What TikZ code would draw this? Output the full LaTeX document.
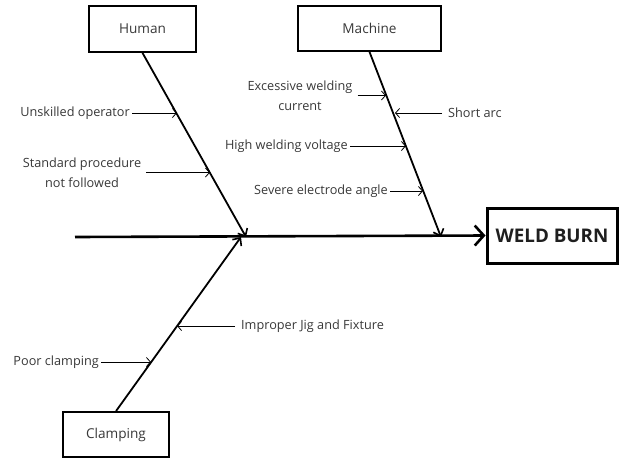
\documentclass[tikz,border=0pt]{standalone}
\usepackage{fontspec}
\setmainfont{Open Sans}
\usetikzlibrary{arrows.meta}
\begin{document}
\begin{tikzpicture}[x=1pt,y=-1pt,
  txt/.style={font=\fontsize{12.7}{20}\selectfont, text=black!78, inner sep=2pt, align=center},
  catbox/.style={draw, line width=1.8pt, font=\fontsize{13.6}{16}\selectfont, text=black!78, inner sep=0pt},
  effect/.style={draw, line width=3pt, font=\bfseries\fontsize{18.8}{22}\selectfont, text=black!88, inner sep=0pt},
  spine/.style={line width=2.6pt, -{Straight Barb[length=9pt,width=20pt,line width=2.6pt]}},
  bone/.style={line width=1.8pt, -{Straight Barb[length=6pt,width=11pt,line width=1.6pt]}},
  twig/.style={line width=0.8pt, -{Straight Barb[length=4pt,width=9pt,line width=0.8pt]}},
]
\useasboundingbox (0,0) rectangle (620,458);

% category boxes and the effect
\node[catbox, minimum width=107pt, minimum height=46pt] (human) at (142.5,29) {Human};
\node[catbox, minimum width=143pt, minimum height=45pt] (machine) at (369.5,28.5) {Machine};
\node[catbox, minimum width=106pt, minimum height=45pt] (clamp) at (116,434.5) {Clamping};
\node[effect, minimum width=130pt, minimum height=55pt] (weld) at (552,235.5) {WELD BURN};

% spine
\coordinate (tail) at (75,237);
\draw[spine] (tail) -- (weld.west);

% main bones
\coordinate (hj) at (246,237);
\coordinate (mj) at (441,237);
\coordinate (cj) at (241,237);
\draw[bone] (human.south) -- (hj);
\draw[bone] (machine.south) -- (mj);
\draw[bone] (clamp.north) -- (cj);

% points on the bones where the causes meet them
\coordinate (h1) at (177,113);
\coordinate (h2) at (210,173);
\coordinate (m1) at (386,96);
\coordinate (m2) at (395,113);
\coordinate (m3) at (406,146);
\coordinate (m4) at (423,191);
\coordinate (c1) at (177,326);
\coordinate (c2) at (151,362);

% Human causes
\node[txt, anchor=east] (uo) at (132,113) {Unskilled operator};
\node[txt] (sp) at (82,172.5) {Standard procedure\\not followed};
\draw[twig] (uo.east) -- (uo.east -| h1);
\draw[twig] ([xshift=3pt]sp.east) -- (sp.east -| h2);

% Machine causes
\node[txt] (ew) at (300,95.5) {Excessive welding\\current};
\node[txt, anchor=west] (sa) at (446,113) {Short arc};
\node[txt, anchor=east] (hv) at (350,146) {High welding voltage};
\node[txt, anchor=east] (se) at (390,191) {Severe electrode angle};
\draw[twig] ([xshift=3pt]ew.east) -- (ew.east -| m1);
\draw[twig] ([xshift=-4pt]sa.west) -- (sa.west -| m2);
\draw[twig] (hv.east) -- (hv.east -| m3);
\draw[twig] (se.east) -- (se.east -| m4);

% Clamping causes
\node[txt, anchor=west] (ij) at (239,326) {Improper Jig and Fixture};
\node[txt, anchor=east] (pc) at (101,362) {Poor clamping};
\draw[twig] ([xshift=-4pt]ij.west) -- (ij.west -| c1);
\draw[twig] (pc.east) -- (pc.east -| c2);
\end{tikzpicture}
\end{document}
